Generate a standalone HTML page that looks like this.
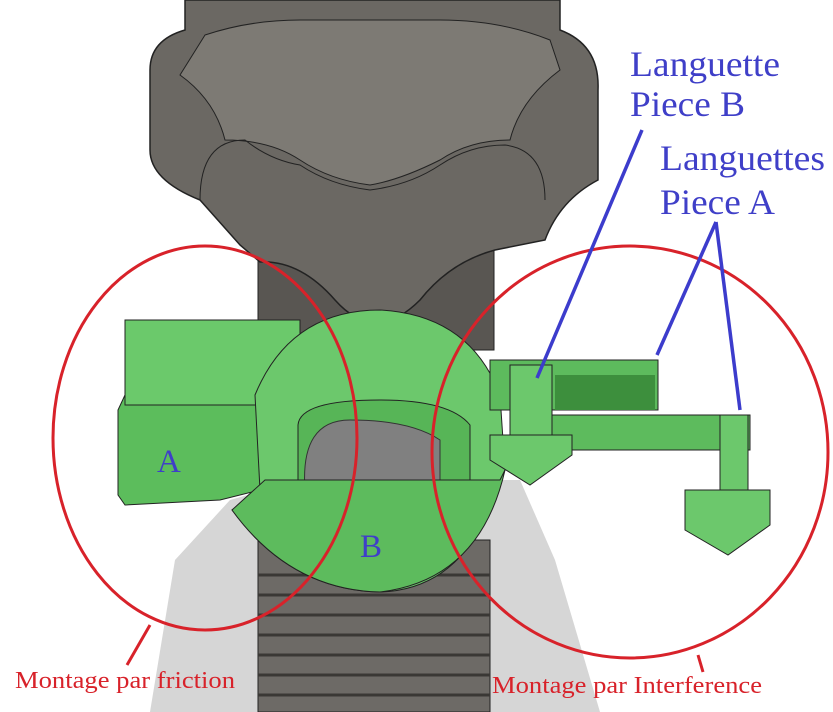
<!DOCTYPE html>
<html><head><style>
html,body{margin:0;padding:0;background:#fff;width:833px;height:712px;overflow:hidden}
svg{display:block}
text{font-family:"Liberation Serif",serif}
</style></head><body>
<svg width="833" height="712" viewBox="0 0 833 712" xmlns="http://www.w3.org/2000/svg">
<!-- shadow -->
<path d="M150 712 L175 560 L230 500 L300 480 L520 480 L555 560 L600 712 Z" fill="#d6d6d6"/>
<!-- stem -->
<rect x="258" y="240" width="236" height="110" fill="#595652" stroke="#222"/>
<!-- thread -->
<rect x="258" y="540" width="232" height="172" fill="#6d6a66" stroke="#222"/>
<g stroke="#3a3835" stroke-width="3">
<line x1="258" y1="575" x2="490" y2="575"/><line x1="258" y1="595" x2="490" y2="595"/>
<line x1="258" y1="615" x2="490" y2="615"/><line x1="258" y1="635" x2="490" y2="635"/>
<line x1="258" y1="655" x2="490" y2="655"/><line x1="258" y1="675" x2="490" y2="675"/>
<line x1="258" y1="695" x2="490" y2="695"/></g>
<!-- knob -->
<path d="M185 0 L560 0 L560 30 Q600 45 598 90 L598 180 Q560 200 545 240 L495 250 Q450 262 420 300 Q375 345 335 300 Q300 260 260 262 L240 245 L200 200 Q150 180 150 150 L150 70 Q150 40 185 30 Z" fill="#6b6863" stroke="#222" stroke-width="1.5"/>
<path d="M205 35 Q250 20 300 20 L440 20 Q500 20 550 40 L560 70 Q520 100 510 140 Q470 140 440 160 Q400 180 370 185 Q330 180 300 160 Q270 140 225 140 Q215 100 180 75 Z" fill="#7d7a74" stroke="#222"/>
<path d="M200 200 Q200 140 245 140 Q270 160 300 165 Q330 185 370 190 Q410 185 440 165 Q470 145 505 145 Q545 150 545 200" fill="none" stroke="#222"/>
<!-- green piece A -->
<path d="M125 320 L295 320 L300 400 L330 420 L330 490 L260 490 L220 500 L125 505 L118 495 L118 410 L125 395 Z" fill="#5cbd5c" stroke="#222"/>
<rect x="125" y="320" width="175" height="85" fill="#6bc96b" stroke="#222"/>
<!-- piece B -->
<path d="M255 395 Q290 310 380 310 Q470 315 500 395 L505 470 L485 520 Q450 590 380 592 Q290 590 232 510 L260 490 Z" fill="#6cc86c" stroke="#222"/>
<path d="M298 425 Q300 400 380 400 Q450 400 470 425 L470 495 L298 495 Z" fill="#57b557" stroke="#222"/>
<path d="M305 490 Q300 420 350 420 Q410 420 440 440 L440 490 Z" fill="#808080" stroke="#333"/>
<path d="M232 510 L265 480 L500 480 L505 470 Q480 580 380 592 Q290 590 232 510 Z" fill="#5dbb5d" stroke="#222"/>
<!-- right tabs -->
<rect x="490" y="360" width="168" height="50" fill="#5dbb5d" stroke="#222"/>
<rect x="555" y="375" width="100" height="35" fill="#3d8f3d"/>
<rect x="540" y="415" width="210" height="35" fill="#5dbb5d" stroke="#222"/>
<rect x="720" y="415" width="28" height="90" fill="#6cc86c" stroke="#222"/>
<path d="M685 490 L770 490 L770 525 L728 555 L685 530 Z" fill="#6cc86c" stroke="#222"/>
<rect x="510" y="365" width="42" height="70" fill="#6cc86c" stroke="#222"/>
<path d="M490 435 L572 435 L572 455 L530 485 L490 460 Z" fill="#6cc86c" stroke="#222"/>
<!-- red ellipses -->
<ellipse cx="205" cy="438" rx="152" ry="192" fill="none" stroke="#d8222a" stroke-width="3"/>
<ellipse cx="630" cy="452" rx="198" ry="206" fill="none" stroke="#d8222a" stroke-width="3"/>
<line x1="150" y1="625" x2="127" y2="665" stroke="#d8222a" stroke-width="3"/>
<line x1="698" y1="655" x2="703" y2="672" stroke="#d8222a" stroke-width="3"/>
<!-- blue lines -->
<g stroke="#3c3ccc" stroke-width="3.5">
<line x1="642" y1="130" x2="537" y2="378"/>
<line x1="716" y1="222" x2="657" y2="355"/>
<line x1="716" y1="222" x2="740" y2="410"/></g>
<!-- texts -->
<g fill="#3f3fc8" font-size="36">
<text x="630" y="76" textLength="150" lengthAdjust="spacingAndGlyphs">Languette</text>
<text x="630" y="116" textLength="115" lengthAdjust="spacingAndGlyphs">Piece B</text>
<text x="660" y="170" textLength="165" lengthAdjust="spacingAndGlyphs">Languettes</text>
<text x="660" y="214" textLength="115" lengthAdjust="spacingAndGlyphs">Piece A</text>
<text x="157" y="472" font-size="33">A</text>
<text x="360" y="557" font-size="33">B</text></g>
<g fill="#d8222a" font-size="24">
<text x="15" y="688" textLength="220" lengthAdjust="spacingAndGlyphs">Montage par friction</text>
<text x="492" y="693" textLength="270" lengthAdjust="spacingAndGlyphs">Montage par Interference</text></g>
</svg>
</body></html>
